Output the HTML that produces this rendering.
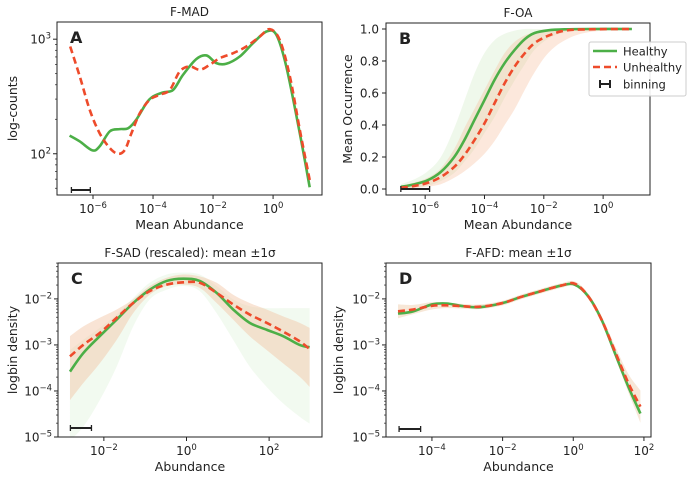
<!DOCTYPE html>
<html><head><meta charset="utf-8"><style>
body{margin:0;background:#fff}
svg{display:block;font-family:"DejaVu Sans","Liberation Sans",sans-serif}
</style></head><body>
<svg id="fig" width="694" height="479" viewBox="0 0 694 479" xmlns="http://www.w3.org/2000/svg"></svg>
<script>
// ---- Panel A data (F-MAD) ----
const aGreenLogX=[-6.78,-6.44,-6.02,-5.78,-5.44,-5.11,-4.83,-4.56,-4.22,-4.0,-3.67,-3.33,-3.0,-2.56,-2.22,-1.89,-1.56,-1.11,-0.67,-0.22,0.11,0.44,0.89,1.22];
const aGreenCounts=[144,128,107,116,157,164,167,198,277,316,343,361,489,670,721,618,610,706,923,1167,1091,578,151,51];
const aRedLogX=[-6.76,-6.44,-6.11,-5.78,-5.44,-5.17,-4.94,-4.72,-4.44,-4.11,-3.78,-3.44,-3.11,-2.78,-2.44,-2.11,-1.78,-1.33,-0.89,-0.44,-0.11,0.22,0.56,0.89,1.22];
const aRedCounts=[863,472,242,151,112,100,108,151,226,296,327,361,523,578,541,598,682,755,863,1055,1222,987,472,162,59];
const aBinning=[-6.72,-6.09];
// ---- Panel B data (F-OA) ----
const bLogX=[-6.82,-6.37,-5.92,-5.47,-5.02,-4.68,-4.34,-4.0,-3.66,-3.32,-2.98,-2.64,-2.31,-1.85,-1.29,-0.5,0.97];
const bGreenMean=[0.013,0.029,0.054,0.107,0.2,0.305,0.431,0.556,0.682,0.787,0.870,0.937,0.975,0.992,0.998,1,1];
const bRedMean=[0.008,0.019,0.038,0.075,0.138,0.211,0.305,0.41,0.536,0.661,0.766,0.849,0.912,0.958,0.990,0.998,1];
const bGreenHi=[0.03,0.06,0.11,0.2,0.38,0.55,0.72,0.85,0.93,0.97,0.99,1,1,1,1,1,1];
const bGreenLo=[0,0.01,0.02,0.05,0.1,0.17,0.25,0.35,0.45,0.57,0.68,0.78,0.87,0.94,0.98,1,1];
const bRedHi=[0.02,0.04,0.07,0.13,0.25,0.38,0.5,0.62,0.74,0.85,0.92,0.96,0.98,0.995,1,1,1];
const bRedLo=[0,0.005,0.015,0.03,0.07,0.11,0.16,0.22,0.3,0.4,0.5,0.62,0.73,0.85,0.93,0.98,1];
const bBinning=[-6.82,-5.85];
// ---- Panel C data (F-SAD), log10 density ----
const cLogX=[-2.82,-2.5,-2.10,-1.69,-1.29,-0.89,-0.48,-0.08,0.32,0.73,1.13,1.53,1.94,2.34,2.74,2.98];
const cGreenMean=[-3.58,-3.18,-2.81,-2.45,-2.09,-1.80,-1.61,-1.56,-1.61,-1.87,-2.23,-2.52,-2.67,-2.81,-3.0,-3.05];
const cRedMean=[-3.25,-3.0,-2.74,-2.41,-2.09,-1.83,-1.69,-1.64,-1.65,-1.87,-2.12,-2.34,-2.52,-2.71,-2.92,-3.09];
const cRedHi=[-2.81,-2.60,-2.41,-2.23,-2.01,-1.72,-1.54,-1.47,-1.51,-1.65,-1.91,-2.09,-2.23,-2.38,-2.52,-2.63];
const cRedLo=[-4.20,-3.83,-3.40,-2.89,-2.31,-1.91,-1.72,-1.69,-1.76,-2.09,-2.45,-2.81,-3.11,-3.40,-3.69,-3.91];
const cGreenHi=[-3.11,-2.89,-2.63,-2.34,-1.98,-1.65,-1.47,-1.43,-1.47,-1.72,-2.01,-2.16,-2.20,-2.20,-2.20,-2.20];
const cGreenLo=[-5.07,-4.78,-4.20,-3.47,-2.60,-2.01,-1.80,-1.72,-1.83,-2.31,-2.89,-3.47,-3.91,-4.27,-4.56,-4.71];
const cBinning=[-2.81,-2.30];
// ---- Panel D data (F-AFD), log10 density ----
const dLogX=[-4.96,-4.53,-4.0,-3.58,-3.10,-2.63,-2.0,-1.49,-0.91,-0.34,0.04,0.42,0.80,1.18,1.56,1.90];
const dGreenMean=[-2.32,-2.27,-2.12,-2.10,-2.16,-2.18,-2.09,-1.96,-1.83,-1.71,-1.69,-1.94,-2.45,-3.18,-3.91,-4.49];
const dRedMean=[-2.27,-2.23,-2.15,-2.14,-2.16,-2.17,-2.09,-1.96,-1.83,-1.71,-1.67,-1.94,-2.45,-3.14,-3.83,-4.34];
const dRedHi=[-2.12,-2.13,-2.07,-2.08,-2.11,-2.12,-2.04,-1.91,-1.78,-1.66,-1.62,-1.88,-2.37,-3.02,-3.63,-3.99];
const dRedLo=[-2.42,-2.33,-2.23,-2.20,-2.21,-2.22,-2.14,-2.01,-1.88,-1.76,-1.72,-2.00,-2.53,-3.26,-4.03,-4.69];
const dBinning=[-4.93,-4.32];

const GREEN='#4caf47', RED='#ee4b2b';
const NS='http://www.w3.org/2000/svg';
const fig=document.getElementById('fig');
function mk(tag,attrs,parent){const e=document.createElementNS(NS,tag);for(const k in attrs)e.setAttribute(k,attrs[k]);(parent||fig).appendChild(e);return e;}
function smooth(pts){
  if(pts.length<2)return'';
  let d='M'+pts[0][0].toFixed(2)+','+pts[0][1].toFixed(2);
  for(let i=0;i<pts.length-1;i++){
    const p0=pts[i-1]||pts[i],p1=pts[i],p2=pts[i+1],p3=pts[i+2]||p2;
    const c1=[p1[0]+(p2[0]-p0[0])/6,p1[1]+(p2[1]-p0[1])/6];
    const c2=[p2[0]-(p3[0]-p1[0])/6,p2[1]-(p3[1]-p1[1])/6];
    d+='C'+c1[0].toFixed(2)+','+c1[1].toFixed(2)+' '+c2[0].toFixed(2)+','+c2[1].toFixed(2)+' '+p2[0].toFixed(2)+','+p2[1].toFixed(2);
  }
  return d;
}
function supLabel(g,x,y,exp,anchor){
  const t=mk('text',{x:x,y:y,'font-size':'12','text-anchor':anchor,fill:'#222'},g);
  t.appendChild(document.createTextNode('10'));
  const s=mk('tspan',{dy:'-5','font-size':'8.5'},t);
  s.textContent=exp<0?'\u2212'+(-exp):String(exp);
  return t;
}
let clipId=0;
function panel(cfg){
  const g=mk('g',{});
  
  
  const {x0,x1,y0,y1,lx0,lx1,ly0,ly1}=cfg;
  const sx=v=>x0+(v-lx0)/(lx1-lx0)*(x1-x0);
  const sy=v=>y1-(v-ly0)/(ly1-ly0)*(y1-y0);
  const id='clip'+(clipId++);
  const cp=mk('clipPath',{id:id},g);mk('rect',{x:x0,y:y0,width:x1-x0,height:y1-y0},cp);
  const plot=mk('g',{'clip-path':'url(#'+id+')'},g);
  (cfg.bands||[]).forEach(b=>{
    const top=b.x.map((v,i)=>[sx(v),sy(b.hi[i])]);
    const bot=b.x.map((v,i)=>[sx(v),sy(b.lo[i])]).reverse();
    const d=smooth(top)+'L'+smooth(bot).slice(1)+'Z';
    const p=mk('path',{d:d,fill:b.color,'fill-opacity':b.op,stroke:'none'},plot);
    
    
  });
  cfg.lines.forEach(l=>{
    const pts=l.x.map((v,i)=>[sx(v),sy(l.y[i])]);
    const p=mk('path',{d:smooth(pts),fill:'none',stroke:l.color,'stroke-width':2.6,'stroke-dasharray':l.dash||'none','stroke-linecap':'butt'},plot);
    
    
  });
  const by=y1-(cfg.binY||6);
  const bb=mk('g',{stroke:'#222','stroke-width':2},g);
  
  
  const bxa=sx(cfg.bin[0]),bxb=sx(cfg.bin[1]);
  mk('line',{x1:bxa,y1:by,x2:bxb,y2:by},bb);
  mk('line',{x1:bxa,y1:by-3,x2:bxa,y2:by+3,'stroke-width':1.3},bb);
  mk('line',{x1:bxb,y1:by-3,x2:bxb,y2:by+3,'stroke-width':1.3},bb);
  const fr=mk('rect',{x:x0,y:y0,width:x1-x0,height:y1-y0,fill:'none',stroke:'#222','stroke-width':1},g);
  
  
  const xt=mk('g',{},g);
  
  
  cfg.xticks.forEach(e=>{const X=sx(e);mk('line',{x1:X,y1:y1,x2:X,y2:y1+4,stroke:'#222'},xt);supLabel(xt,X,y1+18,e,'middle');});
  const yt=mk('g',{},g);
  
  
  if(cfg.ylin){
    cfg.yticks.forEach(v=>{const Y=sy(v);mk('line',{x1:x0-4,y1:Y,x2:x0,y2:Y,stroke:'#222'},yt);
      const t=mk('text',{x:x0-7,y:Y+4.5,'font-size':'12','text-anchor':'end',fill:'#222'},yt);t.textContent=v.toFixed(1);});
  } else {
    for(let e=Math.floor(ly0);e<=Math.ceil(ly1);e++){
      for(let m=2;m<10;m++){const lv=e+Math.log10(m);if(lv>ly0&&lv<ly1){const Y=sy(lv);mk('line',{x1:x0-2,y1:Y,x2:x0,y2:Y,stroke:'#222','stroke-width':0.7},yt);}}
    }
    cfg.yticks.forEach(e=>{const Y=sy(e);mk('line',{x1:x0-4,y1:Y,x2:x0,y2:Y,stroke:'#222'},yt);supLabel(yt,x0-6,Y+4.5,e,'end');});
  }
  const tt=mk('text',{x:(x0+x1)/2,y:y0-6,'font-size':'12','text-anchor':'middle',fill:'#222'},g);
  tt.textContent=cfg.title;
  
  
  const xl=mk('text',{x:(x0+x1)/2,y:y1+34,'font-size':'12.5','text-anchor':'middle',fill:'#222'},g);
  xl.textContent=cfg.xlabel;
  
  
  const yl=mk('text',{x:cfg.ylx,y:(y0+y1)/2,'font-size':'12.5','text-anchor':'middle',fill:'#222',transform:'rotate(-90 '+cfg.ylx+' '+(y0+y1)/2+')'},g);
  yl.textContent=cfg.ylabel;
  
  
  const lt=mk('text',{x:x0+13,y:y0+21,'font-size':'16','font-weight':'bold',fill:'#222'},g);
  lt.textContent=cfg.letter;
  
  
  return g;
}
const L=Math.log10;
panel({name:'panel-a-fmad',x0:57,x1:322,y0:22,y1:195,lx0:-7.2,lx1:1.63,ly0:1.64,ly1:3.15,
  xticks:[-6,-4,-2,0],yticks:[2,3],title:'F-MAD',xlabel:'Mean Abundance',ylabel:'log-counts',ylx:17,letter:'A',bin:aBinning,binY:5,
  lines:[{x:aGreenLogX,y:aGreenCounts.map(L),color:GREEN,label:'healthy-line'},{x:aRedLogX,y:aRedCounts.map(L),color:RED,dash:'7,4',label:'unhealthy-line'}]});
panel({name:'panel-b-foa',x0:386,x1:650,y0:23,y1:195,lx0:-7.32,lx1:1.58,ly0:-0.0375,ly1:1.0375,ylin:true,
  xticks:[-6,-4,-2,0],yticks:[0,0.2,0.4,0.6,0.8,1.0],title:'F-OA',xlabel:'Mean Abundance',ylabel:'Mean Occurrence',ylx:352,letter:'B',bin:bBinning,binY:6,
  bands:[{x:bLogX,hi:bGreenHi,lo:bGreenLo,color:'#b5e0a6',op:0.22,label:'healthy-band'},{x:bLogX,hi:bRedHi,lo:bRedLo,color:'#f6b48c',op:0.3,label:'unhealthy-band'}],
  lines:[{x:bLogX,y:bGreenMean,color:GREEN,label:'healthy-line'},{x:bLogX,y:bRedMean,color:RED,dash:'7,4',label:'unhealthy-line'}]});
panel({name:'panel-c-fsad',x0:58,x1:322,y0:263,y1:437,lx0:-3.11,lx1:3.28,ly0:-5,ly1:-1.22,
  xticks:[-2,0,2],yticks:[-5,-4,-3,-2],title:'F-SAD (rescaled): mean \u00b11\u03c3',xlabel:'Abundance',ylabel:'logbin density',ylx:17,letter:'C',bin:cBinning,binY:9,
  bands:[{x:cLogX,hi:cGreenHi,lo:cGreenLo,color:'#cdebc2',op:0.25,label:'healthy-band'},{x:cLogX,hi:cRedHi,lo:cRedLo,color:'#f2c4a2',op:0.45,label:'unhealthy-band'}],
  lines:[{x:cLogX,y:cGreenMean,color:GREEN,label:'healthy-line'},{x:cLogX,y:cRedMean,color:RED,dash:'7,4',label:'unhealthy-line'}]});
panel({name:'panel-d-afd',x0:386,x1:651,y0:263,y1:437,lx0:-5.3,lx1:2.2,ly0:-5,ly1:-1.22,
  xticks:[-4,-2,0,2],yticks:[-5,-4,-3,-2],title:'F-AFD: mean \u00b11\u03c3',xlabel:'Abundance',ylabel:'logbin density',ylx:343,letter:'D',bin:dBinning,binY:8,
  bands:[{x:dLogX,hi:dRedHi,lo:dRedLo,color:'#f0d0b0',op:0.5,label:'unhealthy-band'}],
  lines:[{x:dLogX,y:dGreenMean,color:GREEN,label:'healthy-line'},{x:dLogX,y:dRedMean,color:RED,dash:'7,4',label:'unhealthy-line'}]});
const lg=mk('g',{});


mk('rect',{x:589,y:42,width:97,height:54,rx:2,fill:'#fff','fill-opacity':0.9,stroke:'#ccc'},lg);
const e1=mk('g',{},lg);


mk('line',{x1:593,y1:51,x2:617,y2:51,stroke:GREEN,'stroke-width':2.6},e1);
let t=mk('text',{x:623,y:55.5,'font-size':'11.5',fill:'#222'},e1);t.textContent='Healthy';
const e2=mk('g',{},lg);


mk('line',{x1:593,y1:67,x2:617,y2:67,stroke:RED,'stroke-width':2.6,'stroke-dasharray':'7,4'},e2);
t=mk('text',{x:623,y:71.5,'font-size':'11.5',fill:'#222'},e2);t.textContent='Unhealthy';
const e3=mk('g',{stroke:'#222','stroke-width':2},lg);


mk('line',{x1:600,y1:84,x2:610,y2:84},e3);mk('line',{x1:600,y1:80,x2:600,y2:88},e3);mk('line',{x1:610,y1:80,x2:610,y2:88},e3);
t=mk('text',{x:623,y:88.5,'font-size':'11.5',fill:'#222',stroke:'none'},e3);t.textContent='binning';
</script>
</body></html>
